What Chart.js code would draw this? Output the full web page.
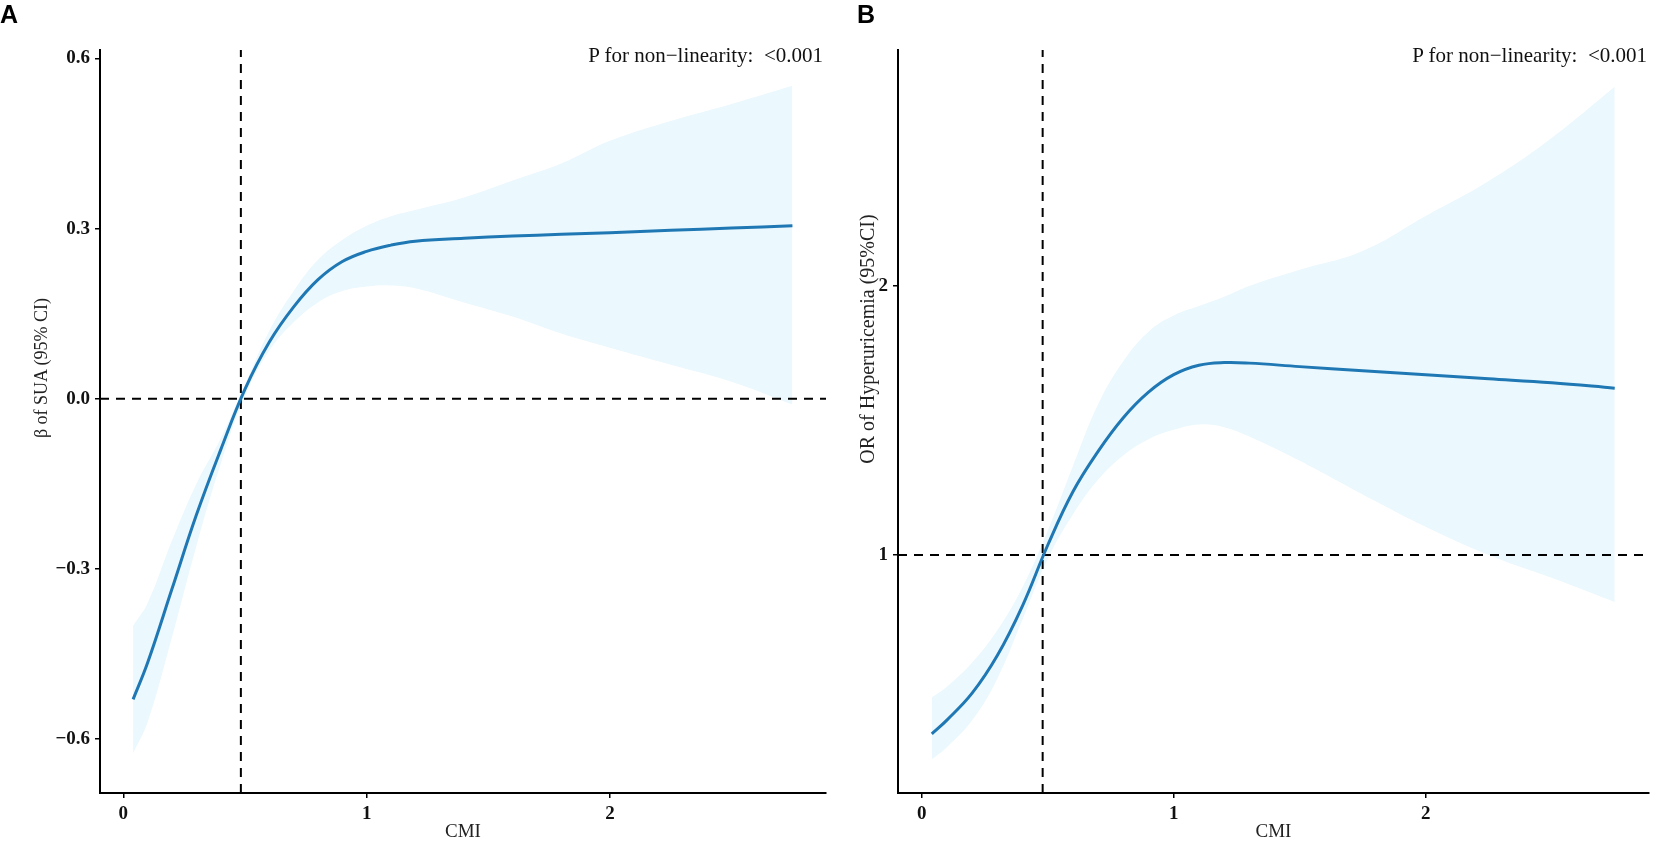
<!DOCTYPE html>
<html>
<head>
<meta charset="utf-8">
<script src="https://cdn.jsdelivr.net/npm/chart.js@4.4.0/dist/chart.umd.min.js"></script>
<style>
  html, body { margin: 0; padding: 0; background: #fff; }
  body { width: 1654px; height: 843px; position: relative; overflow: hidden; font-family: "Liberation Serif", serif; }
  .panel { position: absolute; top: 0; }
  .tag { position: absolute; top: 2px; font-family: "Liberation Sans", Arial, sans-serif; font-weight: bold; font-size: 25px; line-height: 25px; color: #000; }
  .ptext { position: absolute; top: 45px; font-size: 21px; line-height: 21px; white-space: pre; color: #111; }
  .ytitle { position: absolute; width: 400px; height: 24px; line-height: 24px; text-align: center; transform: rotate(-90deg); white-space: nowrap; color: #222; }
</style>
</head>
<body>

<div class="panel" style="left:0px"><canvas id="chartA" width="830" height="843"></canvas></div>
<div class="panel" style="left:830px"><canvas id="chartB" width="824" height="843"></canvas></div>

<div class="tag" style="left:0px">A</div>
<div class="tag" style="left:857px">B</div>
<div class="ptext" style="right:831px">P for non−linearity:  &lt;0.001</div>
<div class="ptext" style="right:7px">P for non−linearity:  &lt;0.001</div>
<div class="ytitle" style="left:-159px; top:356px; font-size:18px">β of SUA (95% CI)</div>
<div class="ytitle" style="left:667px; top:327px; font-size:20px">OR of Hyperuricemia (95%CI)</div>

<script>
// ---- panel A : beta of SUA ----
var cmiA   = [0.04, 0.1, 0.2, 0.3, 0.4, 0.5, 0.6, 0.7, 0.8, 0.9, 1.0, 1.1, 1.2, 1.4, 1.6, 1.8, 2.0, 2.25, 2.5, 2.75];
var betaA  = [-0.53, -0.465, -0.335, -0.205, -0.09, 0.017, 0.10, 0.162, 0.21, 0.242, 0.26, 0.271, 0.278, 0.283, 0.287, 0.29, 0.293, 0.297, 0.301, 0.305];
var upperA = [-0.40, -0.36, -0.25, -0.15, -0.07, 0.025, 0.12, 0.19, 0.245, 0.28, 0.305, 0.322, 0.333, 0.355, 0.385, 0.415, 0.455, 0.49, 0.52, 0.552];
var lowerA = [-0.625, -0.57, -0.42, -0.26, -0.115, 0.005, 0.085, 0.135, 0.17, 0.19, 0.198, 0.2, 0.195, 0.17, 0.145, 0.115, 0.09, 0.06, 0.03, -0.01];
var xTicksA = [0, 1, 2];
var xLabelsA = ['0', '1', '2'];
var yTicksA = [-0.6, -0.3, 0, 0.3, 0.6];
var yLabelsA = ['\u22120.6', '\u22120.3', '0.0', '0.3', '0.6'];
var refA = 0;        // horizontal reference
var cutA = 0.483;    // vertical reference

// ---- panel B : OR of hyperuricemia ----
var cmiB   = [0.04, 0.1, 0.2, 0.3, 0.4, 0.5, 0.6, 0.7, 0.8, 0.9, 1.0, 1.1, 1.2, 1.3, 1.5, 1.75, 2.0, 2.25, 2.5, 2.75];
var orB    = [0.335, 0.386, 0.486, 0.626, 0.811, 1.036, 1.235, 1.385, 1.51, 1.605, 1.67, 1.705, 1.715, 1.713, 1.70, 1.685, 1.67, 1.655, 1.64, 1.62];
var upperB = [0.47, 0.51, 0.60, 0.72, 0.88, 1.09, 1.33, 1.56, 1.72, 1.83, 1.89, 1.925, 1.96, 2.0, 2.06, 2.13, 2.26, 2.39, 2.55, 2.74];
var lowerB = [0.24, 0.285, 0.385, 0.54, 0.76, 0.985, 1.15, 1.28, 1.37, 1.43, 1.465, 1.485, 1.475, 1.44, 1.35, 1.225, 1.105, 1.0, 0.915, 0.825];
var xTicksB = [0, 1, 2];
var xLabelsB = ['0', '1', '2'];
var yTicksB = [1, 2];
var yLabelsB = ['1', '2'];
var refB = 1;
var cutB = 0.48;

var lineColor = '#1f78b4';
var bandColor = '#ebf8fd';
var serif = '"Liberation Serif", "Times New Roman", serif';

function pts(xs, ys) {
  return xs.map(function (x, i) { return { x: x, y: ys[i] }; });
}

function makePanel(id, o) {
  var ctx = document.getElementById(id);
  return new Chart(ctx, {
    type: 'line',
    data: {
      datasets: [
        { data: pts(o.xs, o.ys), borderColor: lineColor, borderWidth: 3, pointRadius: 0, fill: false, tension: 0.4 },
        { data: [{ x: o.xMin, y: o.ref }, { x: o.xMax, y: o.ref }], borderColor: '#000', borderWidth: 2, borderDash: [9, 7], pointRadius: 0, fill: false },
        { data: [{ x: o.cut, y: o.yMin }, { x: o.cut, y: o.yMax }], borderColor: '#000', borderWidth: 2, borderDash: [9, 7], pointRadius: 0, fill: false },
        { data: pts(o.xs, o.up), borderWidth: 0, borderColor: 'rgba(0,0,0,0)', backgroundColor: bandColor, pointRadius: 0, fill: '+1', tension: 0.4 },
        { data: pts(o.xs, o.lo), borderWidth: 0, borderColor: 'rgba(0,0,0,0)', pointRadius: 0, fill: false, tension: 0.4 }
      ]
    },
    options: {
      responsive: false,
      animation: false,
      events: [],
      layout: { padding: { top: 50, right: o.padRight, bottom: 0, left: 0 } },
      plugins: { legend: { display: false }, tooltip: { enabled: false } },
      scales: {
        x: {
          type: 'linear',
          min: o.xMin,
          max: o.xMax,
          afterBuildTicks: function (s) { s.ticks = o.xTicks.map(function (v) { return { value: v }; }); },
          afterFit: function (s) { s.height = 50; },
          ticks: {
            autoSkip: false, maxRotation: 0, padding: 5, color: '#111',
            font: { family: serif, size: 19, weight: 'bold' },
            callback: function (v) { return o.xLabels[o.xTicks.indexOf(v)]; }
          },
          grid: { drawOnChartArea: false, drawTicks: true, tickLength: 5, color: '#000', lineWidth: 1.5 },
          border: { display: true, color: '#000', width: 2 },
          title: { display: true, text: 'CMI', color: '#222', font: { family: serif, size: 19 }, padding: { top: 0, bottom: 0 } }
        },
        y: {
          type: 'linear',
          min: o.yMin,
          max: o.yMax,
          afterBuildTicks: function (s) { s.ticks = o.yTicks.map(function (v) { return { value: v }; }); },
          afterFit: function (s) { s.width = o.yWidth; },
          ticks: {
            autoSkip: false, padding: 5, color: '#111',
            font: { family: serif, size: 19, weight: 'bold' },
            callback: function (v) { return o.yLabels[o.yTicks.indexOf(v)]; }
          },
          grid: { drawOnChartArea: false, drawTicks: true, tickLength: 5, color: '#000', lineWidth: 1.5 },
          border: { display: true, color: '#000', width: 2 }
        }
      }
    }
  });
}

makePanel('chartA', {
  xs: cmiA, ys: betaA, up: upperA, lo: lowerA,
  xMin: -0.096, xMax: 2.888, yMin: -0.695, yMax: 0.615,
  xTicks: xTicksA, xLabels: xLabelsA, yTicks: yTicksA, yLabels: yLabelsA,
  ref: refA, cut: cutA, yWidth: 100, padRight: 4
});

makePanel('chartB', {
  xs: cmiB, ys: orB, up: upperB, lo: lowerB,
  xMin: -0.094, xMax: 2.886, yMin: 0.115, yMax: 2.877,
  xTicks: xTicksB, xLabels: xLabelsB, yTicks: yTicksB, yLabels: yLabelsB,
  ref: refB, cut: cutB, yWidth: 68, padRight: 5
});
</script>
</body>
</html>
